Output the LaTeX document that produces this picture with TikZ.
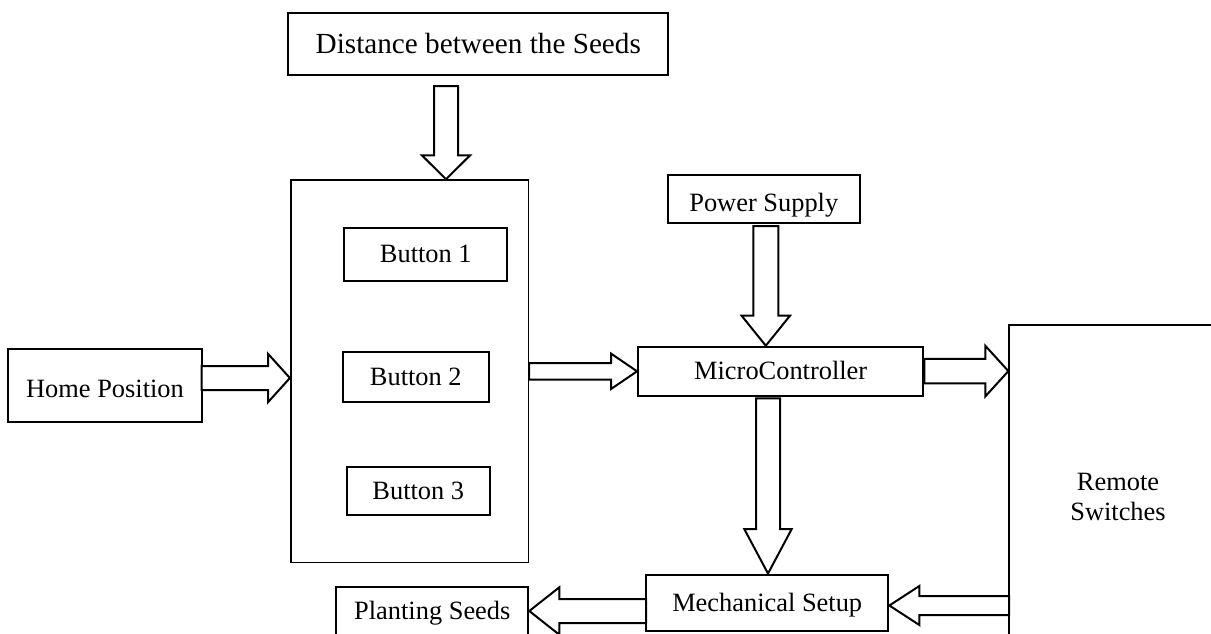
\documentclass[tikz,border=0pt]{standalone}
\usepackage{fontspec}
\setmainfont{Liberation Serif}
\usetikzlibrary{calc}

% hollow block arrow, horizontal: start, end, half shaft, half head, signed head length
\newcommand\harrow[5]{%
  \draw[blockarrow] let \p1=(#1), \p2=(#2) in
    ({\x1},{\y1+(#3)*1pt}) -- ({\x2-(#5)*1pt},{\y1+(#3)*1pt}) --
    ({\x2-(#5)*1pt},{\y1+(#4)*1pt}) -- ({\x2},{\y1}) --
    ({\x2-(#5)*1pt},{\y1-(#4)*1pt}) -- ({\x2-(#5)*1pt},{\y1-(#3)*1pt}) --
    ({\x1},{\y1-(#3)*1pt}) -- cycle;}
% hollow block arrow, vertical (positive head length points downwards)
\newcommand\varrow[5]{%
  \draw[blockarrow] let \p1=(#1), \p2=(#2) in
    ({\x1-(#3)*1pt},{\y1}) -- ({\x1-(#3)*1pt},{\y2+(#5)*1pt}) --
    ({\x1-(#4)*1pt},{\y2+(#5)*1pt}) -- ({\x1},{\y2}) --
    ({\x1+(#4)*1pt},{\y2+(#5)*1pt}) -- ({\x1+(#3)*1pt},{\y2+(#5)*1pt}) --
    ({\x1+(#3)*1pt},{\y1}) -- cycle;}

\tikzset{
  box/.style={draw, line width=2pt, rectangle, inner sep=0pt,
    text height=17.5pt, text depth=0pt,
    font=\fontsize{26.4}{30.7}\selectfont},
  blockarrow/.style={draw, fill=white, line width=2pt, line join=miter},
}

\begin{document}
\begin{tikzpicture}[x=1pt, y=-1pt]
\useasboundingbox (0,0) rectangle (1211,633);
\clip (0,0) rectangle (1211,633);

% blocks
\node[box, minimum width=380pt, minimum height=62.6pt, text height=19.3pt,
      font=\fontsize{29.2}{34}\selectfont] (dist) at (478.3,44) {Distance between the Seeds};
\node[box, line width=1.6pt, minimum width=237.6pt, minimum height=382.7pt] (panel) at (409.5,371.3) {};
\node[box, minimum width=163pt, minimum height=53pt] (btna) at (425.8,254.2) {Button 1};
\node[box, minimum width=146.5pt, minimum height=50pt] (btnb) at (415.8,377) {Button 2};
\node[box, minimum width=143.3pt, minimum height=48.3pt] (btnc) at (418.3,490.8) {Button 3};
\node[box, minimum width=193.4pt, minimum height=72.7pt] (home) at (105,385.7) {\raisebox{-3pt}{Home Position}};
\node[box, minimum width=192.5pt, minimum height=48.3pt] (power) at (763.8,199.2) {\raisebox{-4pt}{Power Supply}};
\node[box, minimum width=285.3pt, minimum height=48.8pt] (mcu) at (780.7,371.1) {MicroController};
\node[box, minimum width=242.3pt, minimum height=56.5pt] (mech) at (767.2,602.8) {Mechanical Setup};
\node[box, minimum width=192pt, minimum height=47.7pt] (plant) at (432.3,611.2) {Planting Seeds};
\node[box, line width=1.6pt, minimum width=217.7pt, minimum height=344pt,
      align=center, text height=, text depth=] (remote) at (1118,497) {Remote\\Switches};

% arrow start points
\coordinate (ds) at (446,86);
\coordinate (hs) at (201.7,378);
\coordinate (ps) at (765.8,226);
\coordinate (ms) at (768,398.3);
\coordinate (rs) at (1009,605.5);
\coordinate (ks) at (646,611);

% connectors
\varrow{ds}{panel.north}{12}{24}{23.7}
\harrow{hs}{panel.west}{12}{24}{21.7}
\harrow{panel.east}{mcu.west}{8.3}{17.7}{26}
\varrow{ps}{mcu.north}{12.5}{24.2}{30}
\harrow{mcu.east}{remote.west}{12.2}{25.3}{23}
\varrow{ms}{mech.north}{12}{23.7}{44.5}
\harrow{rs}{mech.east}{9.5}{19.5}{-30}
\harrow{ks}{plant.east}{12}{23.7}{-30}
\end{tikzpicture}
\end{document}
